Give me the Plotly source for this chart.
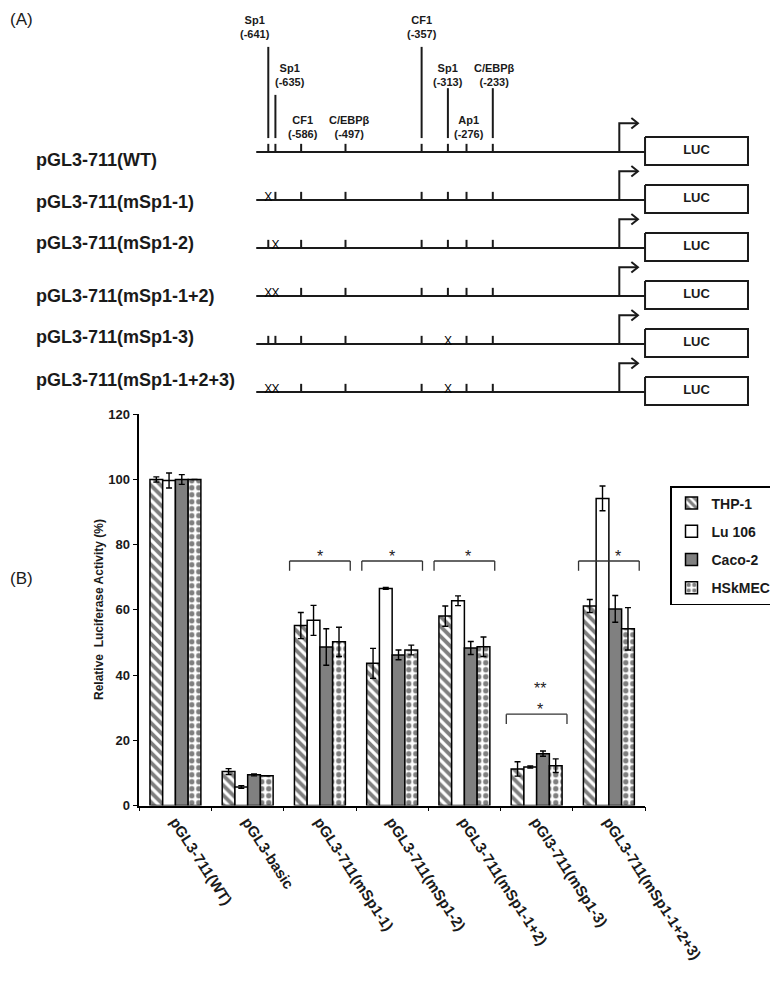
import plotly.graph_objects as go

# the page adds an 8px body margin, so the figure is laid out 8px in from the window edge
OFF = 8
W, H = 778 - OFF, 991 - OFF
FONT = "Liberation Sans, Arial, sans-serif"
INK = "#1a1a1a"


def fx(px):
    return (px - OFF) / W


def fy(py):
    return 1 - (py - OFF) / H


# ---------------- (A) promoter constructs ----------------
constructs = ["pGL3-711(WT)", "pGL3-711(mSp1-1)", "pGL3-711(mSp1-2)",
              "pGL3-711(mSp1-1+2)", "pGL3-711(mSp1-3)", "pGL3-711(mSp1-1+2+3)"]
site_names = ["Sp1", "Sp1", "CF1", "C/EBPβ", "CF1", "Sp1", "Ap1", "C/EBPβ"]
site_bp = [-641, -635, -586, -497, -357, -313, -276, -233]
# position of each site along the drawn schematic (not quite to scale)
site_draw = [-641, -628, -581, -500, -361, -313, -279, -231]
# mutated sites (index into site lists) for each construct
mutated = [[], [0], [1], [0, 1], [5], [0, 1, 5]]

# ---------------- (B) luciferase assay ----------------
categories = ["pGL3-711(WT)", "pGL3-basic", "pGL3-711(mSp1-1)", "pGL3-711(mSp1-2)",
              "pGL3-711(mSp1-1+2)", "pGl3-711(mSp1-3)", "pGL3-711(mSp1-1+2+3)"]
cell_lines = ["THP-1", "Lu 106", "Caco-2", "HSkMEC"]
thp1 = [100, 10.4, 55.2, 43.6, 58.1, 11.2, 61.2]
thp1_err = [0.8, 0.9, 4.0, 4.6, 3.1, 2.2, 2.0]
lu106 = [99.7, 5.7, 56.8, 66.6, 62.8, 11.8, 94.2]
lu106_err = [2.3, 0.4, 4.6, 0.3, 1.5, 0.3, 3.8]
caco2 = [100, 9.4, 48.6, 46.2, 48.3, 15.9, 60.3]
caco2_err = [1.5, 0.3, 5.6, 1.5, 2.0, 0.8, 4.1]
hskmec = [100, 9.1, 50.2, 47.7, 48.7, 12.2, 54.2]
hskmec_err = [0, 0, 4.5, 1.5, 3.0, 2.1, 6.5]

# significance brackets: category index, bracket height
sig_cat = [2, 3, 4, 5, 6]
sig_y = [75, 75, 75, 28, 75]

fig = go.Figure()

# ---- bars ----
styles = [
    dict(color="white", pattern=dict(shape="\\", fgcolor="black", bgcolor="white",
                                     size=7, solidity=0.55)),
    dict(color="white"),
    dict(color="#808080"),
    dict(color="white", pattern=dict(shape=".", fgcolor="black", bgcolor="white",
                                     size=7, solidity=0.45)),
]
for name, vals, errs, st in zip(cell_lines, [thp1, lu106, caco2, hskmec],
                                [thp1_err, lu106_err, caco2_err, hskmec_err], styles):
    fig.add_trace(go.Bar(
        x=categories, y=vals, name=name, legendgroup=name,
        marker=dict(line=dict(color="black", width=1.5), **st),
        error_y=dict(type="data", array=errs, color="black", thickness=1.4, width=3),
        xaxis="x", yaxis="y",
    ))

# ---- schematic lines ----
lx, ly = [], []


def seg(pts):
    for px, py in pts:
        lx.append(px)
        ly.append(py)
    lx.append(None)
    ly.append(None)


prom_start, luc_start, luc_end = -663, 47, 235
stem_top = {0: -2.19, 1: -1.19, 4: -2.19, 5: -1.33, 7: -1.33}
for r, muts in enumerate(mutated):
    seg([(prom_start, r), (luc_start, r)])
    seg([(0, r), (0, r - 0.6), (34, r - 0.6)])
    seg([(22, r - 0.71), (34, r - 0.6), (22, r - 0.49)])
    seg([(luc_start, r - 0.31), (luc_end, r - 0.31), (luc_end, r + 0.27),
         (luc_start, r + 0.27), (luc_start, r - 0.31)])
    for i, sx in enumerate(site_draw):
        if i not in muts:
            seg([(sx, r), (sx, r - 0.17)])
for i, top in stem_top.items():
    seg([(site_draw[i], top), (site_draw[i], -0.29)])

fig.add_trace(go.Scatter(x=lx, y=ly, mode="lines", line=dict(color=INK, width=2),
                         xaxis="x2", yaxis="y2", showlegend=False, hoverinfo="skip"))

mx, my = [], []
for r, muts in enumerate(mutated):
    for i in muts:
        mx.append(site_draw[i])
        my.append(r - 0.04)
fig.add_trace(go.Scatter(x=mx, y=my, mode="text", text=["X"] * len(mx),
                         textfont=dict(size=12, color="black"),
                         xaxis="x2", yaxis="y2", showlegend=False, hoverinfo="skip"))

fig.add_trace(go.Scatter(x=[(luc_start + luc_end) / 2] * len(constructs),
                         y=[r - 0.03 for r in range(len(constructs))],
                         mode="text", text=["LUC"] * len(constructs),
                         textfont=dict(size=13, color=INK, weight="bold"),
                         xaxis="x2", yaxis="y2", showlegend=False, hoverinfo="skip"))

annotations = []
# site labels above WT
label_row = [-2.6, -1.6, -0.52, -0.52, -2.6, -1.6, -0.52, -1.6]
label_dx = [-13, 15, 2, 4, 0, 0, 2, 2]
for name, bp, sx, yr, dx in zip(site_names, site_bp, site_draw, label_row, label_dx):
    annotations.append(dict(x=sx, y=yr, xref="x2", yref="y2", xshift=dx,
                            text=f"{name}<br>({bp})", showarrow=False,
                            font=dict(size=11, weight="bold", color=INK)))
# construct names
name_shift = [0.17, 0.04, -0.1, 0, -0.15, -0.25]
for r, (nm, sh) in enumerate(zip(constructs, name_shift)):
    annotations.append(dict(x=fx(34), y=r + sh, xref="paper", yref="y2", xanchor="left",
                            yanchor="middle", text=nm, showarrow=False,
                            font=dict(size=18, weight="bold", color=INK)))
# panel letters (kept inside the figure's top-left corner)
annotations.append(dict(x=0, y=1, xref="paper", yref="paper", xanchor="left",
                        yanchor="top", text="(A)", showarrow=False,
                        font=dict(size=17, color=INK)))
annotations.append(dict(x=0, y=fy(578), xref="paper", yref="paper", xanchor="left",
                        yanchor="middle", text="(B)", showarrow=False,
                        font=dict(size=17, color=INK)))
# y title
annotations.append(dict(x=fx(99), y=fy(610), xref="paper", yref="paper",
                        xanchor="center", yanchor="middle",
                        text="Relative  Luciferase Activity (%)", textangle=-90,
                        showarrow=False, font=dict(size=12, weight="bold", color=INK)))

# significance brackets and stars
shapes = []
star_dx = [0, 0, 0.05, 0.04, 0.13]
for c, yb, dx in zip(sig_cat, sig_y, star_dx):
    for x0, y0, x1, y1 in [(c - 0.42, yb, c + 0.42, yb),
                           (c - 0.42, yb, c - 0.42, yb - 3),
                           (c + 0.42, yb, c + 0.42, yb - 3)]:
        shapes.append(dict(type="line", xref="x", yref="y", x0=x0, y0=y0, x1=x1, y1=y1,
                           line=dict(color="#333333", width=1.3)))
    annotations.append(dict(x=c + dx, y=yb + 1.3, xref="x", yref="y", yanchor="middle",
                            text="*", showarrow=False, font=dict(size=16, color="#222222")))
annotations.append(dict(x=5.05, y=36.0, xref="x", yref="y", yanchor="middle",
                        text="**", showarrow=False, font=dict(size=16, color="#222222")))

# schematic axes calibrated to page pixels: x = 619.3 + 0.5476*bp, y = 152 + 48*row
x2_range = [(OFF - 619.3) / 0.5476, (778 - 619.3) / 0.5476]
y2_range = [(991 - 152) / 48, (OFF - 152) / 48]

fig.update_layout(
    width=W, height=H,
    margin=dict(l=0, r=0, t=0, b=0, autoexpand=False),
    paper_bgcolor="white", plot_bgcolor="rgba(0,0,0,0)",
    font=dict(family=FONT, color=INK),
    barmode="group", bargap=0.295, bargroupgap=0,
    xaxis=dict(domain=[fx(139.3), fx(645)], anchor="y", type="category",
               range=[-0.5, 6.5], showline=True, linecolor="black", linewidth=1.5,
               ticks="outside", tickson="boundaries", ticklen=4, tickcolor="black",
               tickangle=57, tickfont=dict(size=15, weight="bold", color=INK),
               showgrid=False, automargin=False, fixedrange=True),
    yaxis=dict(domain=[fy(805.5), fy(414.3)], anchor="x", range=[0, 120],
               dtick=20, showline=True, linecolor="black", linewidth=1.5,
               ticks="outside", ticklen=5, tickcolor="black",
               tickfont=dict(size=13, weight="bold", color=INK),
               showgrid=False, zeroline=False, automargin=False, fixedrange=True),
    xaxis2=dict(domain=[0, 1], range=x2_range, anchor="y2", visible=False,
                automargin=False, fixedrange=True),
    yaxis2=dict(domain=[0, 1], range=y2_range, anchor="x2", visible=False,
                automargin=False, fixedrange=True),
    legend=dict(x=fx(670), y=fy(486), xanchor="left", yanchor="top",
                bordercolor="black", borderwidth=1.5, bgcolor="white",
                font=dict(size=14, weight="bold", color=INK),
                tracegroupgap=7, traceorder="grouped"),
    annotations=annotations, shapes=shapes,
)

fig.write_html("out.html")
